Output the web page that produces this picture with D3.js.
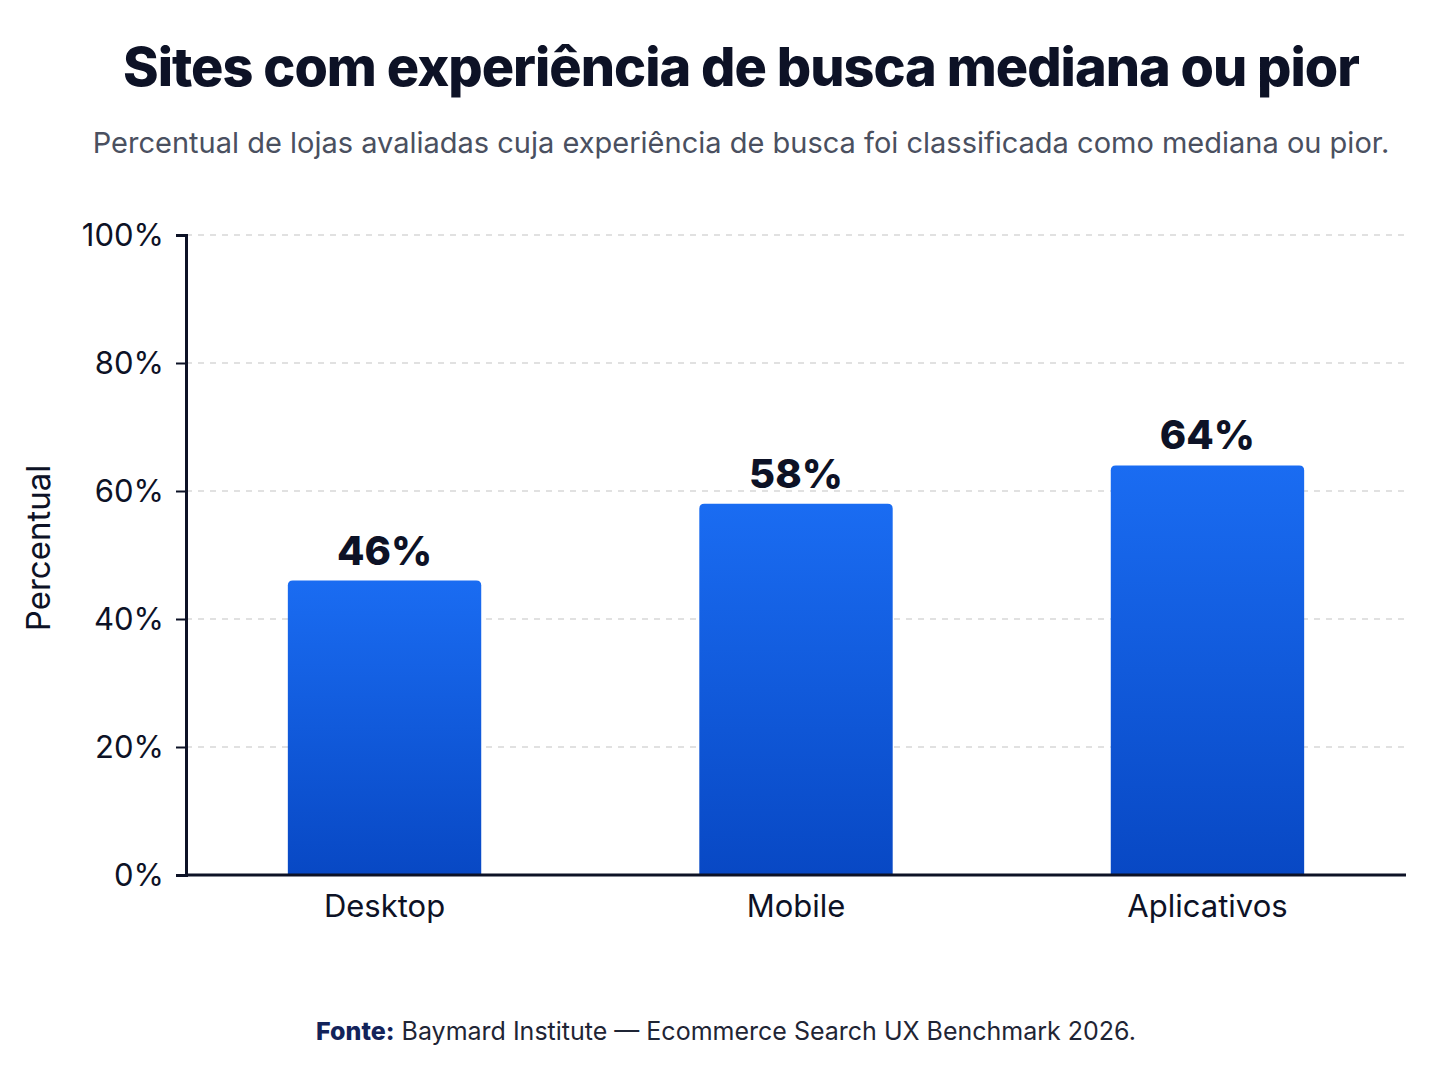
<!DOCTYPE html>
<html><head><meta charset="utf-8">
<script src="https://cdn.jsdelivr.net/npm/d3@7"></script>
<style>body{margin:0;background:#fff}text{font-family:Inter,"Open Sans",sans-serif}</style>
</head><body><svg id="c" width="1448" height="1086"></svg>
<script>
const categories=["Desktop","Mobile","Aplicativos"];
const values=[46,58,64];
const yTicks=[0,20,40,60,80,100];
const svg=d3.select("#c");
const x=d3.scaleBand().domain(categories).range([186,1406]).paddingInner(0.53).paddingOuter(0.2475);
const y=d3.scaleLinear().domain([0,100]).range([875,235]);
const defs=svg.append("defs");
const g=defs.append("linearGradient").attr("id","bg").attr("x1",0).attr("y1",0).attr("x2",0).attr("y2",1);
g.append("stop").attr("offset","0%").attr("stop-color","#1a6cf2");
g.append("stop").attr("offset","100%").attr("stop-color","#0848c4");
svg.append("text").attr("x",741).attr("y",86).attr("text-anchor","middle").attr("font-size",54).attr("font-weight",800).attr("fill","#0d1226").attr("letter-spacing",-1).text("Sites com experiência de busca mediana ou pior");
svg.append("text").attr("x",741).attr("y",153).attr("text-anchor","middle").attr("font-size",29).attr("fill","#4a5060").text("Percentual de lojas avaliadas cuja experiência de busca foi classificada como mediana ou pior.");
svg.append("g").selectAll("line").data(yTicks.slice(1)).join("line").attr("x1",186).attr("x2",1406).attr("y1",d=>y(d)).attr("y2",d=>y(d)).attr("stroke","#d8d8d8").attr("stroke-width",1.5).attr("stroke-dasharray","6,6");
svg.append("g").selectAll("path").data(values).join("path").attr("fill","url(#bg)").attr("d",(d,i)=>{
 const x0=x(categories[i]),w=x.bandwidth(),t=y(d),b=y(0),r=5;
 return `M${x0},${b}V${t+r}Q${x0},${t} ${x0+r},${t}H${x0+w-r}Q${x0+w},${t} ${x0+w},${t+r}V${b}Z`;});
svg.append("g").selectAll("text").data(values).join("text").attr("x",(d,i)=>x(categories[i])+x.bandwidth()/2).attr("y",d=>y(d)-16).attr("text-anchor","middle").attr("font-size",40).attr("font-weight",800).attr("fill","#0d1226").text(d=>d+"%");
const ya=svg.append("g").attr("transform","translate(186,0)").call(d3.axisLeft(y).tickValues(yTicks).tickFormat(d=>d+"%").tickSize(10));
ya.select(".domain").attr("stroke","#0d1226").attr("stroke-width",3);
ya.selectAll(".tick line").attr("stroke","#0d1226").attr("stroke-width",2);
ya.selectAll(".tick text").attr("font-size",31).attr("fill","#0d1226").attr("x",-22).attr("dy","0.35em").attr("font-family","Inter,sans-serif");
const xa=svg.append("g").attr("transform","translate(0,875)").call(d3.axisBottom(x).tickSize(0));
xa.select(".domain").attr("stroke","#0d1226").attr("stroke-width",3).attr("d","M186,0H1406");
xa.selectAll(".tick text").attr("font-size",31).attr("fill","#0d1226").attr("dy","1.25em").attr("font-family","Inter,sans-serif");
svg.append("text").attr("transform","translate(50,548) rotate(-90)").attr("text-anchor","middle").attr("font-size",33).attr("fill","#0d1226").text("Percentual");
const f=svg.append("text").attr("x",726).attr("y",1040).attr("text-anchor","middle").attr("font-size",25).attr("fill","#1f2535");
f.append("tspan").attr("font-weight",800).attr("fill","#13235a").text("Fonte:");
f.append("tspan").text(" Baymard Institute — Ecommerce Search UX Benchmark 2026.");
</script></body></html>
